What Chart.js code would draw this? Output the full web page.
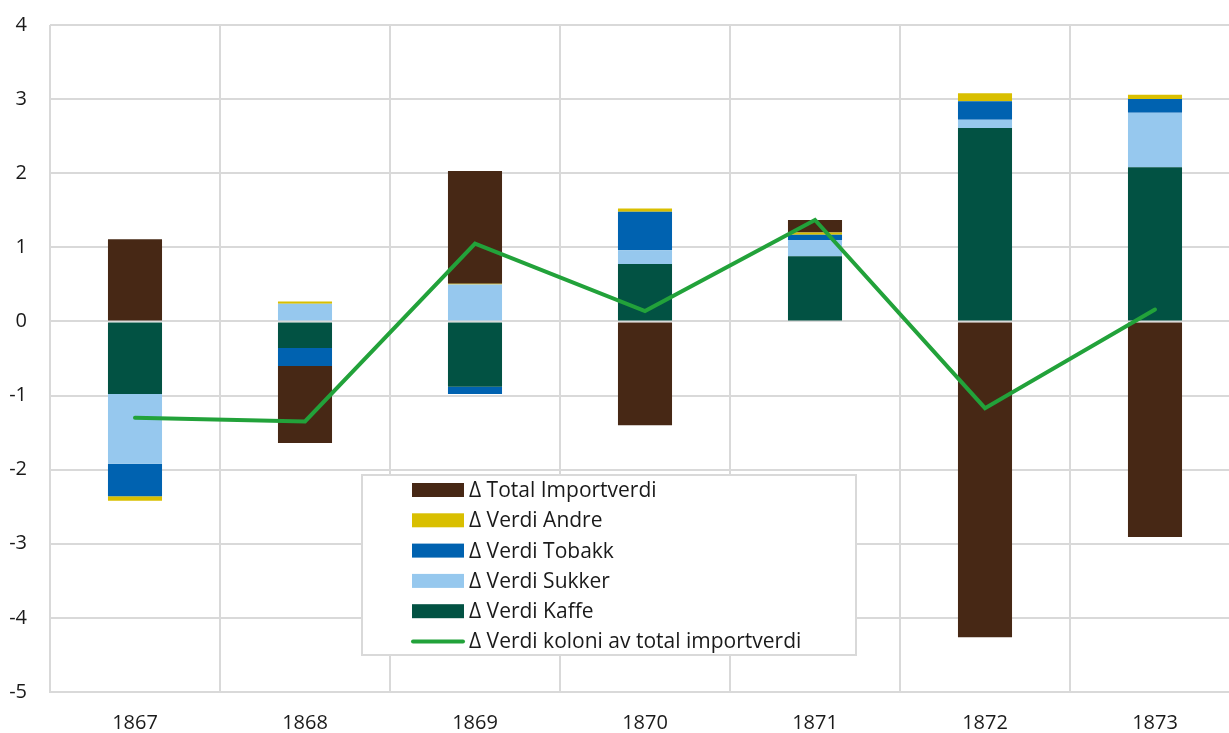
<!DOCTYPE html>
<html>
<head>
<meta charset="utf-8">
<script src="https://cdn.jsdelivr.net/npm/chart.js@4.4.1/dist/chart.umd.min.js"></script>
<style>
  html, body { margin: 0; padding: 0; overflow: hidden; background: #ffffff; }
  canvas { display: block; }
</style>
</head>
<body>
<canvas id="c" width="1250" height="733"></canvas>
<script>
const categories = ['1867', '1868', '1869', '1870', '1871', '1872', '1873'];
const kaffe  = [-0.98, -0.36, -0.88, 0.775, 0.88, 2.61, 2.08];
const sukker = [-0.94, 0.24, 0.50, 0.185, 0.22, 0.11, 0.735];
const tobakk = [-0.44, -0.24, -0.10, 0.52, 0.07, 0.25, 0.185];
const andre  = [-0.06, 0.03, 0.01, 0.045, 0.03, 0.11, 0.06];
const total  = [1.11, -1.04, 1.52, -1.40, 0.17, -4.26, -2.91];
const koloni = [-1.30, -1.35, 1.05, 0.14, 1.37, -1.17, 0.16];
const yMin = -5, yMax = 4;

const FONT = '"Open Sans", "Noto Sans", sans-serif';
const TEXT = '#1a1a1a';
const GRID = '#d9d9d9';

const labels = {
  kaffe: '\u0394 Verdi Kaffe',
  sukker: '\u0394 Verdi Sukker',
  tobakk: '\u0394 Verdi Tobakk',
  andre: '\u0394 Verdi Andre',
  total: '\u0394 Total Importverdi',
  koloni: '\u0394 Verdi koloni av total importverdi'
};

const barCommon = { type: 'bar', stack: 'bars', categoryPercentage: 1.0, barPercentage: 0.318, borderWidth: 0 };

const boxLegend = {
  id: 'boxLegend',
  afterDatasetsDraw(chart) {
    const ctx = chart.ctx;
    const ca = chart.chartArea;
    const x0 = ca.left + 312, y0 = 475, w = 494, h = 180;
    ctx.save();
    ctx.fillStyle = '#ffffff';
    ctx.fillRect(x0, y0, w, h);
    ctx.strokeStyle = GRID;
    ctx.lineWidth = 2;
    ctx.strokeRect(x0, y0, w, h);
    const order = [4, 3, 2, 1, 0, 5];
    ctx.font = '21px ' + FONT;
    ctx.textBaseline = 'middle';
    ctx.textAlign = 'left';
    order.forEach((di, i) => {
      const ds = chart.data.datasets[di];
      const cy = y0 + 15 + i * 30.3;
      const sx = x0 + 50;
      if (ds.type === 'line') {
        ctx.strokeStyle = ds.borderColor;
        ctx.lineWidth = 4;
        ctx.lineCap = 'round';
        ctx.beginPath();
        ctx.moveTo(sx + 1, cy);
        ctx.lineTo(sx + 51, cy);
        ctx.stroke();
      } else {
        ctx.fillStyle = ds.backgroundColor;
        ctx.fillRect(sx, cy - 7, 52, 14);
      }
      ctx.fillStyle = TEXT;
      ctx.fillText(ds.label, sx + 57, cy + 1);
    });
    ctx.restore();
  }
};

new Chart(document.getElementById('c'), {
  data: {
    labels: categories,
    datasets: [
      Object.assign({}, barCommon, { label: labels.kaffe, data: kaffe, backgroundColor: '#025243' }),
      Object.assign({}, barCommon, { label: labels.sukker, data: sukker, backgroundColor: '#96c8ee' }),
      Object.assign({}, barCommon, { label: labels.tobakk, data: tobakk, backgroundColor: '#0062b0' }),
      Object.assign({}, barCommon, { label: labels.andre, data: andre, backgroundColor: '#d9bf00' }),
      Object.assign({}, barCommon, { label: labels.total, data: total, backgroundColor: '#472815' }),
      { type: 'line', stack: 'line', order: -1, label: labels.koloni, data: koloni,
        borderColor: '#22a23a', backgroundColor: '#22a23a', borderWidth: 4,
        borderCapStyle: 'round', borderJoinStyle: 'miter', pointRadius: 0, tension: 0, fill: false }
    ]
  },
  options: {
    responsive: false,
    devicePixelRatio: 1,
    animation: false,
    layout: { padding: { left: 0, right: 10, top: 25, bottom: 0 } },
    plugins: {
      legend: { display: false },
      tooltip: { enabled: false },
      title: { display: false }
    },
    scales: {
      x: {
        stacked: true,
        offset: true,
        grid: { offset: true, color: GRID, lineWidth: 2, drawTicks: false },
        border: { display: true, color: GRID, width: 2 },
        ticks: { color: TEXT, font: { family: FONT, size: 20 }, padding: 19, maxRotation: 0 },
        afterFit(scale) { scale.height = 41; }
      },
      y: {
        stacked: true,
        min: yMin,
        max: yMax,
        grid: { color: GRID, lineWidth: 2, drawTicks: false },
        border: { display: false },
        ticks: { stepSize: 1, color: TEXT, font: { family: FONT, size: 20 }, padding: 23 },
        afterFit(scale) { scale.width = 50; scale.paddingTop = 0; }
      }
    }
  },
  plugins: [boxLegend, {
    id: 'fixArea',
    afterLayout(chart) {}
  }]
});
</script>
</body>
</html>
